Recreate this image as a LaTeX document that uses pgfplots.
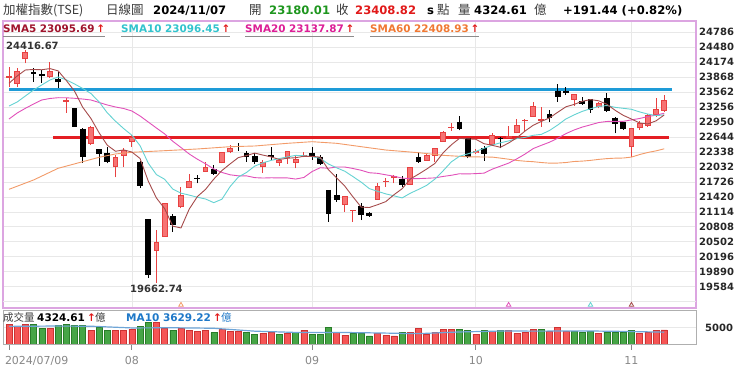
\documentclass[border=0pt]{standalone}
\usepackage{fontspec}
\setmainfont{DejaVu Sans}
\newfontfamily\cjk{Noto Sans CJK TC}
\usepackage{pgfplots}
\pgfplotsset{compat=1.18}
\definecolor{plumframe}{RGB}{220,165,225}
\definecolor{gridgray}{RGB}{232,232,232}
\definecolor{smaA}{RGB}{165,75,75}
\definecolor{smaAt}{RGB}{160,20,45}
\definecolor{smaB}{RGB}{100,210,210}
\definecolor{smaBt}{RGB}{50,195,205}
\definecolor{smaC}{RGB}{225,80,185}
\definecolor{smaCt}{RGB}{220,30,150}
\definecolor{smaD}{RGB}{242,155,105}
\definecolor{smaDt}{RGB}{240,120,50}
\definecolor{hblue}{RGB}{30,155,215}
\definecolor{hred}{RGB}{228,30,35}
\definecolor{cred}{RGB}{232,65,65}
\definecolor{credf}{RGB}{246,115,115}
\definecolor{volr}{RGB}{245,85,85}
\definecolor{volrd}{RGB}{205,50,50}
\definecolor{volg}{RGB}{70,165,70}
\definecolor{volgd}{RGB}{40,125,40}
\definecolor{volma}{RGB}{110,165,215}
\definecolor{matext}{RGB}{30,120,200}
\definecolor{upgreen}{RGB}{30,150,30}
\definecolor{upred}{RGB}{225,25,25}
\definecolor{titlegray}{RGB}{60,60,60}
\definecolor{framegray}{RGB}{175,175,175}
\definecolor{labelgray}{RGB}{135,135,135}
\newcommand{\hb}{\fontsize{11.6}{13}\selectfont\bfseries}
\newcommand{\lb}{\fontsize{10.4}{12}\selectfont\bfseries}
\newcommand{\vb}{\fontsize{10.5}{12}\selectfont\bfseries}
\newcommand{\tc}{\cjk\fontsize{12.5}{14}\selectfont}
\newcommand{\vc}{\cjk\fontsize{10.5}{12}\selectfont}
\begin{document}
\begin{tikzpicture}[x=1pt,y=1pt]
% ---------------- main panel ----------------
\begin{axis}[name=main, scale only axis,
  width=693pt, height=287pt,
  xmin=-0.733, xmax=83.88, ymin=19147.5, ymax=25018,
  clip=false, unbounded coords=jump,
  axis line style={plumframe, line width=1.2pt},
  xtick={15,37,57,76}, xticklabels={}, xtick style={draw=none},
  ytick={19584,19890,20196,20502,20808,21114,21420,21726,22032,22338,22644,22950,23256,23562,23868,24174,24480,24786},
  yticklabels={19584,19890,20196,20502,20808,21114,21420,21726,22032,22338,22644,22950,23256,23562,23868,24174,24480,24786},
  extra y ticks={19278}, extra y tick labels={}, extra y tick style={grid=major},
  scaled y ticks=false,
  yticklabel pos=right, ytick style={draw=none},
  yticklabel style={anchor=west, inner sep=0pt, xshift=3pt, font=\fontsize{10}{12}\selectfont\bfseries, text=black!85},
  xmajorgrids, ymajorgrids, grid style={gridgray, line width=0.7pt},
]
\coordinate (mSW) at (rel axis cs:0,0);
% horizontal support / resistance lines
\addplot[hblue, line width=3pt] coordinates {(0,23621) (80.95,23621)};
\addplot[hred, line width=3pt] coordinates {(5.37,22645) (80.6,22645)};
% red candle wicks
\addplot[cred, line width=1pt] coordinates {
(0,23674)(0,24083)(0,nan) (1,23674)(1,24050)(1,nan) (2,24153)(2,24417)(2,nan) (5,23846)(5,24173)(5,nan)
(7,23142)(7,23449)(7,nan) (10,22482)(10,22870)(10,nan) (13,21821)(13,22277)(13,nan) (14,22038)(14,22414)(14,nan)
(15,22447)(15,22686)(15,nan) (18,19663)(18,20743)(18,nan) (19,20600)(19,21295)(19,nan) (21,21187)(21,21616)(21,nan)
(22,21596)(22,21888)(22,nan) (24,21935)(24,22140)(24,nan) (26,22107)(26,22345)(26,nan) (27,22312)(27,22482)(27,nan)
(31,21915)(31,22175)(31,nan) (33,22052)(33,22210)(33,nan) (34,22093)(34,22359)(34,nan) (35,22005)(35,22277)(35,nan)
(36,22230)(36,22345)(36,nan) (41,21117)(41,21440)(41,nan) (42,20913)(42,21155)(42,nan) (45,21357)(45,21698)(45,nan)
(46,21629)(46,21800)(46,nan) (47,21698)(47,21862)(47,nan) (49,21663)(49,22025)(49,nan) (51,22160)(51,22312)(51,nan)
(52,22140)(52,22414)(52,nan) (53,22549)(53,22768)(53,nan) (54,22774)(54,22938)(54,nan) (57,22298)(57,22394)(57,nan)
(59,22482)(59,22721)(59,nan) (61,22619)(61,22870)(61,nan) (62,22721)(62,23007)(62,nan) (63,22754)(63,23007)(63,nan)
(64,23060)(64,23367)(64,nan) (65,22856)(65,23253)(65,nan) (69,23279)(69,23525)(69,nan) (72,23232)(72,23367)(72,nan)
(76,22242)(76,22830)(76,nan) (77,22788)(77,22979)(77,nan) (78,22856)(78,23116)(78,nan) (79,23060)(79,23437)(79,nan)
(80,23163)(80,23504)(80,nan)};
% black candle wicks
\addplot[black, line width=1pt] coordinates {
(3,23776)(3,24050)(3,nan) (4,23756)(4,24016)(4,nan) (6,23641)(6,23981)(6,nan) (8,22850)(8,23240)(8,nan)
(9,22120)(9,22823)(9,nan) (11,22058)(11,22400)(11,nan) (12,22107)(12,22447)(12,nan) (16,21610)(16,22150)(16,nan)
(17,19761)(17,20968)(17,nan) (20,20708)(20,21070)(20,nan) (23,21698)(23,21868)(23,nan) (25,21868)(25,22072)(25,nan)
(28,22365)(28,22529)(28,nan) (29,22140)(29,22359)(29,nan) (30,22093)(30,22312)(30,nan) (32,22175)(32,22447)(32,nan)
(37,22175)(37,22435)(37,nan) (38,22072)(38,22277)(38,nan) (39,20913)(39,21561)(39,nan) (40,21322)(40,21888)(40,nan)
(43,20947)(43,21301)(43,nan) (44,21015)(44,21117)(44,nan) (48,21629)(48,21847)(48,nan) (50,22120)(50,22345)(50,nan)
(55,22781)(55,23075)(55,nan) (56,22210)(56,22625)(56,nan) (58,22160)(58,22461)(58,nan) (60,22414)(60,22651)(60,nan)
(66,22958)(66,23198)(66,nan) (67,23367)(67,23723)(67,nan) (68,23504)(68,23674)(68,nan) (70,23300)(70,23470)(70,nan)
(71,23142)(71,23425)(71,nan) (73,23163)(73,23539)(73,nan) (74,22721)(74,23045)(74,nan) (75,22788)(75,22960)(75,nan)};
% red candle bodies (border)
\addplot[cred, line width=5.8pt] coordinates {
(0,23862)(0,23890)(0,nan) (1,23729)(1,24001)(1,nan) (2,24235)(2,24390)(2,nan) (5,23866)(5,24001)(5,nan)
(7,23367)(7,23402)(7,nan) (10,22502)(10,22856)(10,nan) (13,22025)(13,22230)(13,nan) (14,22257)(14,22379)(14,nan)
(15,22549)(15,22642)(15,nan) (18,20319)(18,20502)(18,nan) (19,20606)(19,21289)(19,nan) (21,21207)(21,21459)(21,nan)
(22,21596)(22,21751)(22,nan) (24,21935)(24,22025)(24,nan) (26,22107)(26,22345)(26,nan) (27,22332)(27,22426)(27,nan)
(31,22025)(31,22140)(31,nan) (33,22120)(33,22175)(33,nan) (34,22210)(34,22359)(34,nan) (35,22120)(35,22195)(35,nan)
(36,22242)(36,22277)(36,nan) (41,21254)(41,21438)(41,nan) (42,21125)(42,21150)(42,nan) (45,21357)(45,21643)(45,nan)
(46,21730)(46,21755)(46,nan) (47,21800)(47,21847)(47,nan) (49,21663)(49,22025)(49,nan) (51,22160)(51,22277)(51,nan)
(52,22257)(52,22414)(52,nan) (53,22549)(53,22741)(53,nan) (54,22830)(54,22855)(54,nan) (57,22312)(57,22365)(57,nan)
(59,22482)(59,22686)(59,nan) (61,22625)(61,22666)(61,nan) (62,22721)(62,22891)(62,nan) (63,22965)(63,22990)(63,nan)
(64,23060)(64,23279)(64,nan) (65,22980)(65,23005)(65,nan) (69,23402)(69,23525)(69,nan) (72,23253)(72,23347)(72,nan)
(76,22435)(76,22820)(76,nan) (77,22823)(77,22938)(77,nan) (78,22870)(78,23095)(78,nan) (79,23095)(79,23217)(79,nan)
(80,23180)(80,23409)(80,nan)};
% red candle bodies (fill)
\addplot[credf, line width=3.8pt] coordinates {
(1,23749)(1,23981)(1,nan) (2,24255)(2,24370)(2,nan) (5,23886)(5,23981)(5,nan) (10,22522)(10,22836)(10,nan)
(13,22045)(13,22210)(13,nan) (14,22277)(14,22359)(14,nan) (15,22569)(15,22622)(15,nan) (18,20339)(18,20482)(18,nan)
(19,20626)(19,21269)(19,nan) (21,21227)(21,21439)(21,nan) (22,21616)(22,21731)(22,nan) (24,21955)(24,22005)(24,nan)
(26,22127)(26,22325)(26,nan) (27,22352)(27,22406)(27,nan) (31,22045)(31,22120)(31,nan) (33,22140)(33,22155)(33,nan)
(34,22230)(34,22339)(34,nan) (35,22140)(35,22175)(35,nan) (41,21274)(41,21418)(41,nan) (45,21377)(45,21623)(45,nan)
(49,21683)(49,22005)(49,nan) (51,22180)(51,22257)(51,nan) (52,22277)(52,22394)(52,nan) (53,22569)(53,22721)(53,nan)
(57,22332)(57,22345)(57,nan) (59,22502)(59,22666)(59,nan) (62,22741)(62,22871)(62,nan) (64,23080)(64,23259)(64,nan)
(69,23422)(69,23505)(69,nan) (72,23273)(72,23327)(72,nan) (76,22455)(76,22800)(76,nan) (77,22843)(77,22918)(77,nan)
(78,22890)(78,23075)(78,nan) (79,23115)(79,23197)(79,nan) (80,23200)(80,23389)(80,nan)};
% black candle bodies
\addplot[black, line width=5.8pt] coordinates {
(3,23969)(3,23934)(3,nan) (4,23934)(4,23893)(4,nan) (6,23825)(6,23770)(6,nan) (8,23232)(8,22856)(8,nan)
(9,22809)(9,22242)(9,nan) (11,22394)(11,22298)(11,nan) (12,22324)(12,22140)(12,nan) (16,22140)(16,21638)(16,nan)
(17,20962)(17,19831)(17,nan) (20,21029)(20,20845)(20,nan) (23,21811)(23,21785)(23,nan) (25,21991)(25,21888)(25,nan)
(28,22460)(28,22435)(28,nan) (29,22312)(29,22230)(29,nan) (30,22257)(30,22140)(30,nan) (32,22267)(32,22242)(32,nan)
(37,22324)(37,22242)(37,nan) (38,22242)(38,22093)(38,nan) (39,21561)(39,21070)(39,nan) (40,21459)(40,21357)(40,nan)
(43,21240)(43,21050)(43,nan) (44,21097)(44,21029)(44,nan) (48,21780)(48,21663)(48,nan) (50,22242)(50,22140)(50,nan)
(55,22958)(55,22803)(55,nan) (56,22619)(56,22230)(56,nan) (58,22426)(58,22291)(58,nan) (60,22631)(60,22604)(60,nan)
(66,23110)(66,23028)(66,nan) (67,23592)(67,23470)(67,nan) (68,23586)(68,23539)(68,nan) (70,23388)(70,23320)(70,nan)
(71,23423)(71,23198)(71,nan) (73,23437)(73,23183)(73,nan) (74,23040)(74,22911)(74,nan) (75,22958)(75,22803)(75,nan)};
% SMA60
\addplot[smaD, line width=0.9pt] coordinates {
(0,21575)(3,21766)(6,22005)(9,22140)(11,22230)(13,22298)(15,22332)(19,22365)(23,22400)(27,22447)(30,22461)
(34,22516)(37,22549)(40,22516)(43,22447)(46,22379)(50,22324)(53,22270)(56,22240)(59,22234)(60,22213)(61,22191)
(62,22166)(63,22150)(64,22140)(65,22123)(66,22110)(67,22112)(68,22123)(69,22144)(70,22152)(71,22167)(72,22187)
(73,22203)(74,22212)(75,22215)(76,22234)(77,22286)(78,22329)(79,22361)(80,22404)};
% SMA20
\addplot[smaC, line width=0.9pt] coordinates {
(0,23013)(1,23136)(2,23232)(3,23320)(4,23402)(5,23433)(6,23449)(7,23447)(8,23437)(9,23422)(10,23402)
(11,23351)(12,23300)(13,23259)(14,23228)(15,23177)(16,23075)(17,22952)(18,22829)(19,22709)(20,22557)
(21,22430)(22,22298)(23,22191)(24,22097)(25,21992)(26,21920)(27,21872)(28,21851)(29,21850)(30,21814)
(31,21806)(32,21811)(33,21809)(34,21808)(35,21785)(36,21817)(37,21938)(38,22017)(39,22006)(40,22032)
(41,22031)(42,22001)(43,21964)(44,21914)(45,21902)(46,21872)(47,21843)(48,21804)(49,21794)(50,21794)
(51,21801)(52,21809)(53,21838)(54,21862)(55,21893)(56,21890)(57,21896)(58,21906)(59,21987)(60,22049)
(61,22111)(62,22198)(63,22295)(64,22408)(65,22475)(66,22539)(67,22620)(68,22714)(69,22789)(70,22848)
(71,22894)(72,22941)(73,22963)(74,22966)(75,22966)(76,22995)(77,23024)(78,23064)(79,23091)(80,23131)};
% SMA10
\addplot[smaB, line width=0.9pt] coordinates {
(0,23279)(1,23361)(2,23484)(3,23607)(4,23709)(5,23811)(6,23872)(7,23815)(8,23730)(9,23638)(10,23535)
(11,23364)(12,23139)(13,22969)(14,22817)(15,22682)(16,22468)(17,22111)(18,21876)(19,21781)(20,21579)
(21,21496)(22,21457)(23,21413)(24,21377)(25,21302)(26,21373)(27,21632)(28,21826)(29,21920)(30,22049)
(31,22117)(32,22166)(33,22205)(34,22238)(35,22269)(36,22262)(37,22244)(38,22209)(39,22093)(40,22015)
(41,21945)(42,21835)(43,21722)(44,21589)(45,21534)(46,21482)(47,21442)(48,21399)(49,21495)(50,21573)
(51,21657)(52,21784)(53,21953)(54,22135)(55,22251)(56,22299)(57,22351)(58,22414)(59,22480)(60,22526)
(61,22565)(62,22613)(63,22637)(64,22680)(65,22699)(66,22779)(67,22890)(68,23015)(69,23098)(70,23170)
(71,23223)(72,23269)(73,23289)(74,23252)(75,23232)(76,23212)(77,23158)(78,23114)(79,23083)(80,23096)};
% SMA5
\addplot[smaA, line width=0.9pt] coordinates {
(0,23744)(1,23893)(2,24016)(3,24026)(4,24021)(5,24044)(6,23998)(7,23800)(8,23584)(9,23254)(10,23025)
(11,22731)(12,22478)(13,22353)(14,22381)(15,22338)(16,22206)(17,21744)(18,21398)(19,21180)(20,20821)
(21,20785)(22,21169)(23,21427)(24,21574)(25,21783)(26,21960)(27,22095)(28,22224)(29,22265)(30,22316)
(31,22275)(32,22238)(33,22185)(34,22211)(35,22222)(36,22250)(37,22250)(38,22233)(39,21975)(40,21808)
(41,21640)(42,21420)(43,21211)(44,21203)(45,21260)(46,21323)(47,21464)(48,21587)(49,21786)(50,21885)
(51,21990)(52,22104)(53,22319)(54,22484)(55,22617)(56,22608)(57,22598)(58,22508)(59,22475)(60,22435)
(61,22522)(62,22628)(63,22766)(64,22885)(65,22964)(66,23036)(67,23152)(68,23263)(69,23312)(70,23376)
(71,23410)(72,23386)(73,23315)(74,23192)(75,23088)(76,23013)(77,22931)(78,22913)(79,22975)(80,23096)};
% crossing markers
\addplot[only marks, mark=triangle, mark size=2.6pt, smaD, mark options={line width=0.8pt}] coordinates {(21,19209)};
\addplot[only marks, mark=triangle, mark size=2.6pt, smaC, mark options={line width=0.8pt}] coordinates {(61,19209)};
\addplot[only marks, mark=triangle, mark size=2.6pt, smaB, mark options={line width=0.8pt}] coordinates {(71,19209)};
\addplot[only marks, mark=triangle, mark size=2.6pt, smaA, mark options={line width=0.8pt}] coordinates {(76,19209)};
% extreme labels
\node[anchor=west, inner sep=0pt, font=\fontsize{10}{12}\selectfont\bfseries, text=black!80] at (axis cs:-0.37,24517) {24416.67};
\node[inner sep=0pt, font=\fontsize{10}{12}\selectfont\bfseries, text=black!80] at (axis cs:18.0,19536) {19662.74};
\end{axis}
\coordinate (O) at ([shift={(-3pt,-58pt)}]mSW);
% ---------------- volume panel ----------------
\begin{axis}[at={(O)}, anchor=south west, xshift=3pt, yshift=22pt, scale only axis,
  width=693pt, height=33.3pt,
  xmin=-0.733, xmax=83.88, ymin=0, ymax=10214,
  axis line style={framegray, line width=0.8pt},
  ytick={5000}, yticklabels={5000}, scaled y ticks=false,
  yticklabel pos=right, ytick style={draw=none},
  yticklabel style={anchor=west, inner sep=0pt, xshift=3pt, font=\fontsize{10}{12}\selectfont\bfseries, text=black!85},
  ymajorgrids, grid style={gridgray, line width=0.7pt},
  xtick={0,15,37,57,76},
  xticklabels={{\rlap{\kern-4pt 2024/07/09}},08,09,10,11},
  xtick pos=left, tick align=outside, major tick length=6pt,
  xtick style={draw=labelgray, line width=0.8pt},
  xticklabel style={anchor=north, inner sep=0pt, yshift=-6.5pt, font=\fontsize{11}{13}\selectfont, text=labelgray},
]
\addplot[ybar, bar width=6pt, bar shift=0pt, fill=volr, draw=volrd, line width=0.5pt] coordinates {
(0,6133)(1,5315)(2,6030)(5,4906)(10,4088)(13,4088)(14,4088)(15,4395)(18,6541)(19,4803)(21,4803)(22,4088)
(23,3884)(24,4190)(26,4497)(27,3781)(28,3884)(31,3270)(32,3475)(34,3270)(36,4292)(40,3475)(41,2759)
(45,3270)(46,2555)(47,2453)(49,3475)(50,4803)(51,3066)(52,3577)(53,4497)(54,4497)(57,3066)(59,3986)
(61,4088)(62,3270)(63,3475)(64,4497)(66,3781)(67,5110)(68,3986)(72,3270)(77,3270)(78,3475)(79,4190)(80,4325)};
\addplot[ybar, bar width=6pt, bar shift=0pt, fill=volg, draw=volgd, line width=0.5pt] coordinates {
(3,6133)(4,4906)(6,5621)(7,6133)(8,5723)(9,5723)(11,5110)(12,4292)(16,5519)(17,6643)(20,4292)(25,3475)
(29,3679)(30,3066)(33,3066)(35,3475)(37,3066)(38,3066)(39,5110)(42,3270)(43,3270)(44,2453)(48,3475)
(55,4497)(56,4088)(58,4190)(60,4292)(65,4497)(69,3986)(70,3475)(71,3986)(73,3679)(74,3679)(75,3679)(76,4190)};
\addplot[volma, line width=1.2pt] coordinates {
(0,5400)(5,5500)(10,5458)(15,4926)(20,4977)(25,4824)(30,3935)(35,3546)(40,3557)(44,3424)(50,3178)
(55,3690)(60,3976)(65,3945)(70,4017)(75,3863)(80,3629)};
\end{axis}
\begin{scope}[shift={(O)}]
% ---------------- title row ----------------
\begin{scope}[every node/.style={anchor=base west, inner sep=0pt, text=titlegray}]
\node at (3,351) {\tc 加權指數(TSE)};
\node at (106,351) {\tc 日線圖};
\node[text=black] at (153,351) {\hb 2024/11/07};
\node at (249,351) {\tc 開};
\node[text=upgreen] at (269,351) {\hb 23180.01};
\node at (336,351) {\tc 收};
\node[text=upred] at (355,351) {\hb 23408.82};
\node[text=black] at (427,351) {\hb s};
\node at (437,351) {\tc 點};
\node at (458,351) {\tc 量};
\node[text=black] at (474,351) {\hb 4324.61};
\node at (534,351) {\tc 億};
\node[text=black] at (563,351) {\hb +191.44 (+0.82\%)};
% legend
\node[text=smaAt] (l1) at (3,333.7) {\lb SMA5 23095.69\,{\color{upred}↑}};
\node[text=smaBt] (l2) at (121,333.7) {\lb SMA10 23096.45\,{\color{upred}↑}};
\node[text=smaCt] (l3) at (245,333.7) {\lb SMA20 23137.87\,{\color{upred}↑}};
\node[text=smaDt] (l4) at (370,333.7) {\lb SMA60 22408.93\,{\color{upred}↑}};
% volume header
\node at (3,44.3) {\vc 成交量};
\node[text=black] at (37,44.3) {\vb 4324.61};
\node[text=upred] at (87,44.3) {\vb ↑};
\node at (95,44.3) {\vc 億};
\node[text=matext] at (126,44.3) {\vb MA10 3629.22};
\node[text=upred] at (213,44.3) {\vb ↑};
\node[text=matext] at (221,44.3) {\vc 億};
\end{scope}
\foreach \n in {l1,l2,l3,l4}{
  \draw[black!45, line width=0.8pt] ([yshift=-3.7pt]\n.base west) -- ([yshift=-3.7pt]\n.base east);
}
\end{scope}
\pgfresetboundingbox
\path[use as bounding box] (O) rectangle ([shift={(740pt,366pt)}]O);
\end{tikzpicture}
\end{document}
